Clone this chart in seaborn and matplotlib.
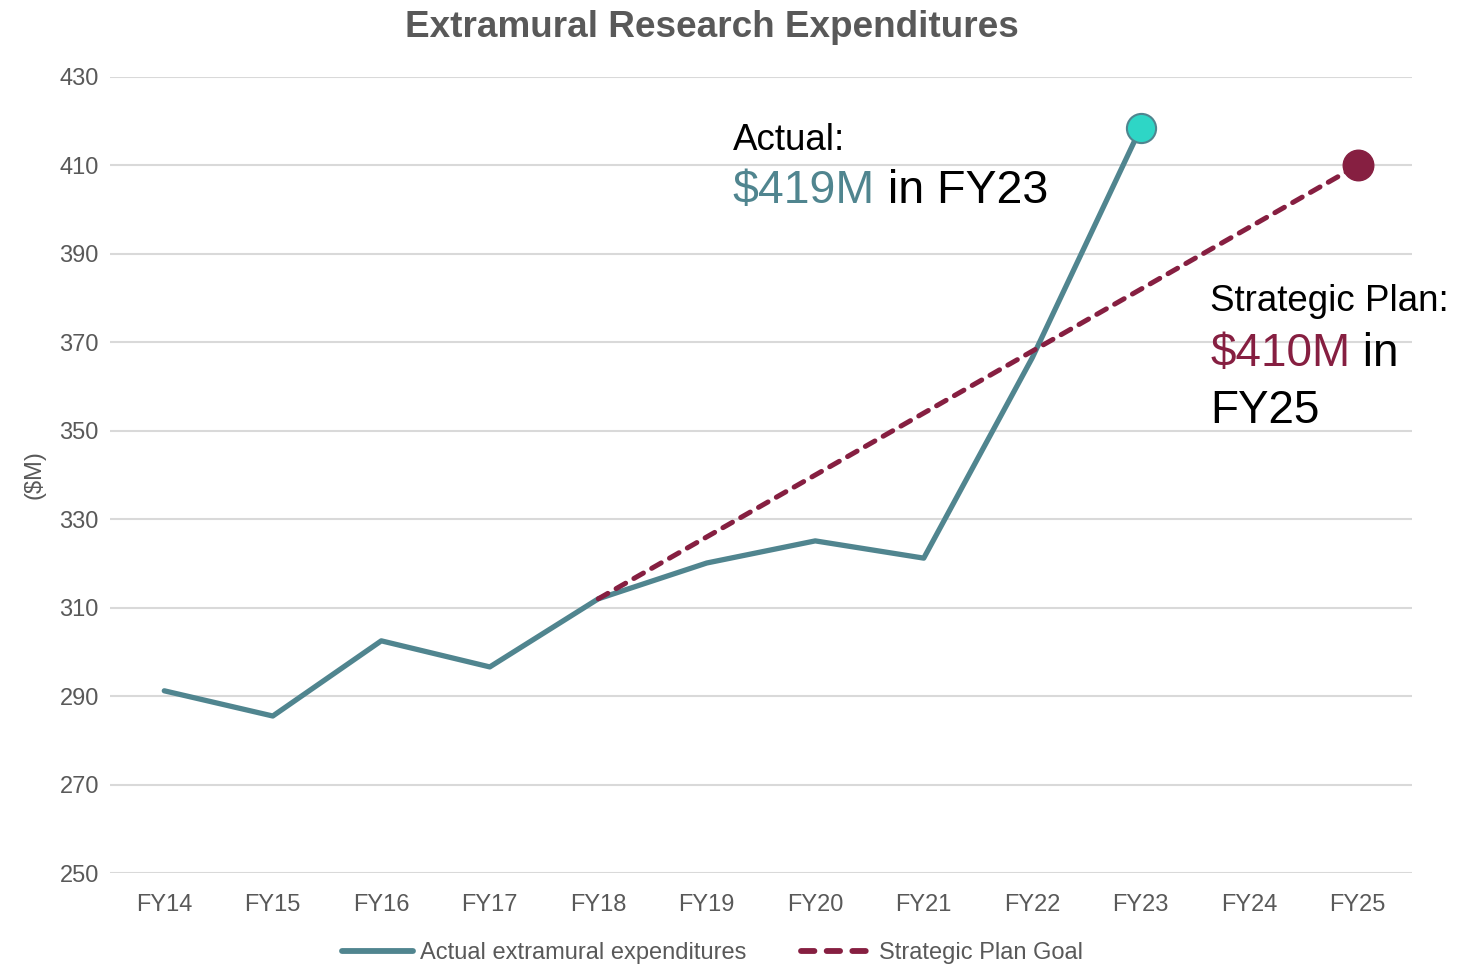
import matplotlib
matplotlib.use("Agg")
import matplotlib.pyplot as plt
import pandas as pd
import seaborn as sns

years = ['FY14', 'FY15', 'FY16', 'FY17', 'FY18', 'FY19', 'FY20', 'FY21', 'FY22', 'FY23', 'FY24', 'FY25']
actual = [291.2, 285.5, 302.5, 296.6, 312.0, 320.1, 325.1, 321.2, 366.5, 418.5]
goal_years = ['FY18', 'FY19', 'FY20', 'FY21', 'FY22', 'FY23', 'FY24', 'FY25']
goal = [312, 326, 340, 354, 368, 382, 396, 410]
yticks = [250, 270, 290, 310, 330, 350, 370, 390, 410, 430]

TEAL = '#50858F'
MAROON = '#861F41'
CYAN = '#2ED6C6'
GRAY = '#595959'

sns.set_theme(style='white')
plt.rcParams['font.family'] = ['Liberation Sans', 'DejaVu Sans']

df_act = pd.DataFrame({'idx': [years.index(y) for y in years[:len(actual)]], 'value': actual})
df_goal = pd.DataFrame({'idx': [years.index(y) for y in goal_years], 'value': goal})

fig = plt.figure(figsize=(14.81, 9.67), dpi=100)
ax = fig.add_axes([0.0743, 0.0972, 0.8791, 0.8232])

sns.lineplot(data=df_act, x='idx', y='value', ax=ax, color=TEAL, lw=3.8,
             label='Actual extramural expenditures', zorder=3)
sns.lineplot(data=df_goal, x='idx', y='value', ax=ax, color=MAROON, lw=3.6,
             label='Strategic Plan Goal', zorder=4, dashes=False)
ax.lines[1].set_dashes([2.2, 1.9])
ax.lines[1].set_dash_capstyle('round')
ax.lines[0].set_solid_capstyle('round')

ax.plot(df_act['idx'].iloc[-1], df_act['value'].iloc[-1], 'o', ms=21,
        mfc=CYAN, mec=TEAL, mew=1.5, zorder=5)
ax.plot(df_goal['idx'].iloc[-1], df_goal['value'].iloc[-1], 'o', ms=22,
        mfc=MAROON, mec=MAROON, zorder=5)

ax.set_xlim(-0.5, 11.5)
ax.set_ylim(250, 430)
ax.set_xticks(range(len(years)))
ax.set_xticklabels(years)
ax.set_yticks(yticks)
ax.tick_params(axis='both', labelsize=17, labelcolor=GRAY, length=0, pad=8)
ax.tick_params(axis='x', pad=15)
ax.yaxis.grid(True, color='#D9D9D9', lw=1.5)
ax.set_axisbelow(True)
for s in ax.spines.values():
    s.set_visible(False)
ax.set_xlabel('')
ax.set_ylabel('($M)', fontsize=17, color=GRAY, labelpad=10)

fig.text(0.4805, 0.972, 'Extramural Research Expenditures', ha='center', va='center',
         fontsize=26.6, fontweight='bold', color=GRAY)

# annotations
ax.text(5.24, 415.6, 'Actual:', fontsize=26.5, color='black', va='center', ha='left')
t1 = ax.text(5.24, 404.2, '$419M', fontsize=33.5, color=TEAL, va='center', ha='left')
ax.annotate(' in FY23', xy=(1, 0), xycoords=t1, fontsize=33.5, color='black',
            va='bottom', ha='left')

ax.text(9.64, 379.3, 'Strategic Plan:', fontsize=26.5, color='black', va='center', ha='left')
t2 = ax.text(9.64, 367.4, '$410M', fontsize=33, color=MAROON, va='center', ha='left')
ax.annotate(' in', xy=(1, 0), xycoords=t2, fontsize=33, color='black',
            va='bottom', ha='left')
ax.text(9.64, 354.5, 'FY25', fontsize=33, color='black', va='center', ha='left')

ax.get_legend().remove()
h, l = ax.get_legend_handles_labels()
leg = fig.legend(h, l, loc='center', bbox_to_anchor=(0.481, 0.0145), ncol=2,
                 frameon=False, fontsize=17, handlelength=3.0, handletextpad=0.3,
                 columnspacing=2.3, labelcolor=GRAY)
for line in leg.get_lines():
    line.set_linewidth(4.2)
leg.get_lines()[1].set_dashes([2.3, 2.1])
leg.get_lines()[1].set_dash_capstyle('round')
leg.get_lines()[0].set_solid_capstyle('round')

fig.savefig('out.png', dpi=100)
